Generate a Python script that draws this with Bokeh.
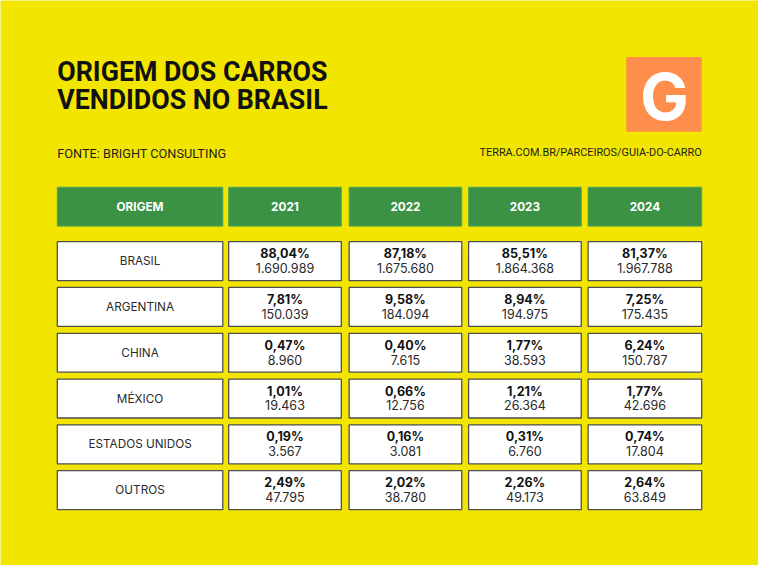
from bokeh.plotting import figure
from bokeh.models import Range1d
from bokeh.core.properties import value
from bokeh.embed import file_html
from bokeh.resources import INLINE

# ---- data ----
title_lines = ["ORIGEM DOS CARROS", "VENDIDOS NO BRASIL"]
source_text = "FONTE: BRIGHT CONSULTING"
site_text = "TERRA.COM.BR/PARCEIROS/GUIA-DO-CARRO"
header_first = "ORIGEM"
years = ["2021", "2022", "2023", "2024"]
origins = ["BRASIL", "ARGENTINA", "CHINA", "MÉXICO", "ESTADOS UNIDOS", "OUTROS"]
pct_2021 = [88.04, 7.81, 0.47, 1.01, 0.19, 2.49]
pct_2022 = [87.18, 9.58, 0.40, 0.66, 0.16, 2.02]
pct_2023 = [85.51, 8.94, 1.77, 1.21, 0.31, 2.26]
pct_2024 = [81.37, 7.25, 6.24, 1.77, 0.74, 2.64]
units_2021 = [1690989, 150039, 8960, 19463, 3567, 47795]
units_2022 = [1675680, 184094, 7615, 12756, 3081, 38780]
units_2023 = [1864368, 194975, 38593, 26364, 6760, 49173]
units_2024 = [1967788, 175435, 150787, 42696, 17804, 63849]

pcts = [pct_2021, pct_2022, pct_2023, pct_2024]
units = [units_2021, units_2022, units_2023, units_2024]

def fmt_pct(v):
    return f"{v:.2f}".replace(".", ",") + "%"

def fmt_int(v):
    return f"{v:,}".replace(",", ".")

# ---- style ----
YELLOW = "#F2E600"
GREEN = "#3B9244"
ORANGE = "#FF8E4C"
BORDER = "#4F4F4F"
INTER = value("Inter")
ROBOTO = value("Roboto")
W, H = 758, 565
S = W / 774.0

def fs(px):
    return f"{px * S:.2f}px"

p = figure(width=W, height=H, output_backend="svg", toolbar_location=None,
           x_range=Range1d(0, 774), y_range=Range1d(581, 0),
           min_border=0, background_fill_color=YELLOW, border_fill_color=YELLOW)
p.axis.visible = False
p.grid.visible = False
p.outline_line_color = None

# title
p.text(x=[58, 58], y=[74, 102], text=title_lines, text_font=ROBOTO,
       text_font_size=fs(27.3), text_font_style="bold", text_color="#111111",
       text_baseline="middle", text_align="left")
p.text(x=[58], y=[157], text=[source_text], text_font=ROBOTO, text_font_size=fs(13),
       text_color="#1E1E1E", text_baseline="middle", text_align="left")
p.text(x=[716], y=[156.5], text=[site_text], text_font=ROBOTO, text_font_size=fs(11.1),
       text_color="#1E1E1E", text_baseline="middle", text_align="right")

# logo
p.quad(left=[639], right=[716], top=[58], bottom=[135], fill_color=ORANGE, line_color=None)
p.text(x=[678], y=[99], text=["G"], text_font=INTER, text_font_size=fs(66),
       text_font_style="bold", text_color="white", text_baseline="middle",
       text_align="center")

# columns
col_left = [58, 233, 356, 478, 600]
col_right = [227, 348, 471, 593, 716]
head_top, head_bot = 192, 232
row_top = [248 + 47.1 * i for i in range(len(origins))]
row_h = 40

# header
hdr = [header_first] + years
p.quad(left=col_left, right=col_right, top=[head_top] * 5, bottom=[head_bot] * 5,
       fill_color=GREEN, line_color="#4FA456", line_width=1)
p.text(x=[(l + r) / 2 for l, r in zip(col_left, col_right)], y=[(head_top + head_bot) / 2] * 5,
       text=hdr, text_font=INTER, text_font_size=fs(12), text_font_style="bold",
       text_color="white", text_baseline="middle", text_align="center")

# body cells
L, R, T, B = [], [], [], []
for t in row_top:
    for l, r in zip(col_left, col_right):
        L.append(l); R.append(r); T.append(t); B.append(t + row_h)
p.quad(left=L, right=R, top=T, bottom=B, fill_color="white", line_color=BORDER, line_width=1.3)

# origin labels
ox = (col_left[0] + col_right[0]) / 2
p.text(x=[ox] * len(origins), y=[t + row_h / 2 for t in row_top], text=origins,
       text_font=INTER, text_font_size=fs(12), text_color="#2a2a2a",
       text_baseline="middle", text_align="center")

# values
px, py, pt, ux, uy, ut = [], [], [], [], [], []
for j in range(len(years)):
    cx = (col_left[j + 1] + col_right[j + 1]) / 2
    for i, t in enumerate(row_top):
        px.append(cx); py.append(t + 12.3); pt.append(fmt_pct(pcts[j][i]))
        ux.append(cx); uy.append(t + 27); ut.append(fmt_int(units[j][i]))
p.text(x=px, y=py, text=pt, text_font=INTER, text_font_size=fs(12.8), text_font_style="bold",
       text_color="#111111", text_baseline="middle", text_align="center")
p.text(x=ux, y=uy, text=ut, text_font=INTER, text_font_size=fs(12.8),
       text_color="#2a2a2a", text_baseline="middle", text_align="center")

html = file_html(p, INLINE).replace("<body>", '<body style="background-color:#F2E600;">', 1)
open("out.html", "w").write(html)
